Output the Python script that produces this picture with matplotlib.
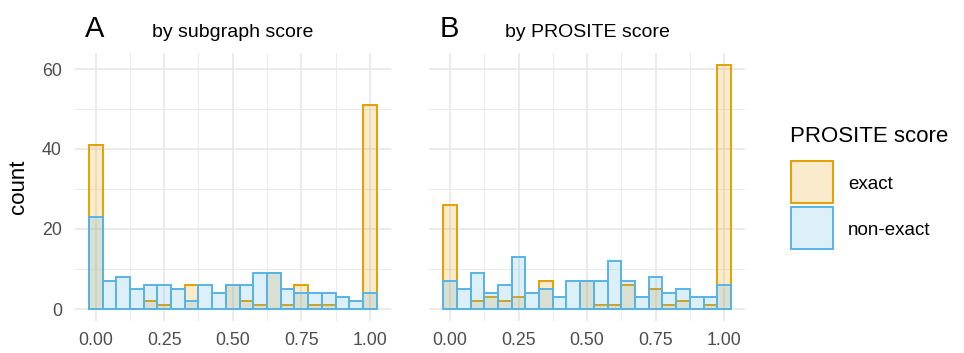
import matplotlib
matplotlib.use("Agg")
import matplotlib.pyplot as plt
from matplotlib.patches import Rectangle
from matplotlib.ticker import MultipleLocator, FixedLocator

plt.rcParams["font.family"] = ["Liberation Sans", "DejaVu Sans"]

# bin centres (binwidth 0.05)
bin_centers = [round(i * 0.05, 2) for i in range(21)]

# panel A: by subgraph score
a_exact = [41, 0, 0, 0, 2, 1, 0, 6, 0, 0, 6, 2, 1, 9, 1, 6, 1, 1, 0, 0, 51]
a_nonexact = [23, 7, 8, 5, 6, 6, 5, 2, 6, 4, 6, 6, 9, 9, 5, 4, 4, 4, 3, 2, 4]

# panel B: by PROSITE score
b_exact = [26, 0, 2, 3, 2, 3, 0, 7, 0, 0, 7, 1, 1, 6, 0, 5, 1, 2, 0, 1, 61]
b_nonexact = [7, 5, 9, 4, 6, 13, 4, 5, 3, 7, 7, 7, 12, 7, 3, 8, 4, 5, 3, 3, 6]

panels = [
    ("A", "by subgraph score", a_exact, a_nonexact),
    ("B", "by PROSITE score", b_exact, b_nonexact),
]
legend_labels = ["exact", "non-exact"]

orange = "#E69F00"
blue = "#56B4E9"
grid_col = "#EBEBEB"
tick_col = "#4D4D4D"

W, H = 964, 353
fig = plt.figure(figsize=(W / 100, H / 100), dpi=100)

lefts = [74.5, 428.8]
for i, (tag, title, exact, nonexact) in enumerate(panels):
    ax = fig.add_axes([lefts[i] / W, 1 - 321.2 / H, 316.5 / W, 268.4 / H])
    for vals, col in [(exact, orange), (nonexact, blue)]:
        ax.bar(bin_centers, vals, width=0.05, facecolor=(col, 0.2),
               edgecolor=col, linewidth=1.4, zorder=3)
    ax.set_xlim(-0.0775, 1.0775)
    ax.set_ylim(-3.05, 64.05)
    ax.xaxis.set_major_locator(MultipleLocator(0.25))
    ax.xaxis.set_minor_locator(FixedLocator([0.125, 0.375, 0.625, 0.875]))
    ax.yaxis.set_major_locator(MultipleLocator(20))
    ax.yaxis.set_minor_locator(FixedLocator([10, 30, 50]))
    ax.set_xticklabels([f"{v:.2f}" for v in ax.get_xticks()])
    ax.grid(which="major", color=grid_col, linewidth=1.4, zorder=0)
    ax.grid(which="minor", color=grid_col, linewidth=0.7, zorder=0)
    ax.set_axisbelow(True)
    for s in ax.spines.values():
        s.set_visible(False)
    ax.tick_params(which="both", length=0, labelsize=12.8, labelcolor=tick_col)
    ax.tick_params(axis="x", pad=8)
    ax.tick_params(axis="y", pad=9)
    if i == 1:
        ax.set_yticklabels([])
    cx = (lefts[i] + 316.5 / 2) / W
    fig.text(cx, 1 - 37 / H, title, ha="center", va="baseline", fontsize=14)
    fig.text((lefts[i] + 10.5) / W, 1 - 37.3 / H, tag, ha="left", va="baseline", fontsize=21)

fig.text(18.5 / W, 1 - 187 / H, "count", rotation=90, ha="center", va="center", fontsize=16)

# legend, drawn by hand to match ggplot's key size
fig.text(790 / W, 1 - 141.5 / H, "PROSITE score", ha="left", va="baseline", fontsize=16)
for k, (lab, col) in enumerate(zip(legend_labels, [orange, blue])):
    top = 160.5 + k * 46
    fig.add_artist(Rectangle((791 / W, 1 - (top + 42) / H), 42 / W, 42 / H,
                             transform=fig.transFigure, facecolor=(col, 0.2),
                             edgecolor=col, linewidth=1.4))
    fig.text(848 / W, 1 - (top + 28.5) / H, lab, ha="left", va="baseline", fontsize=13.5)

fig.savefig("out.png", dpi=100)
